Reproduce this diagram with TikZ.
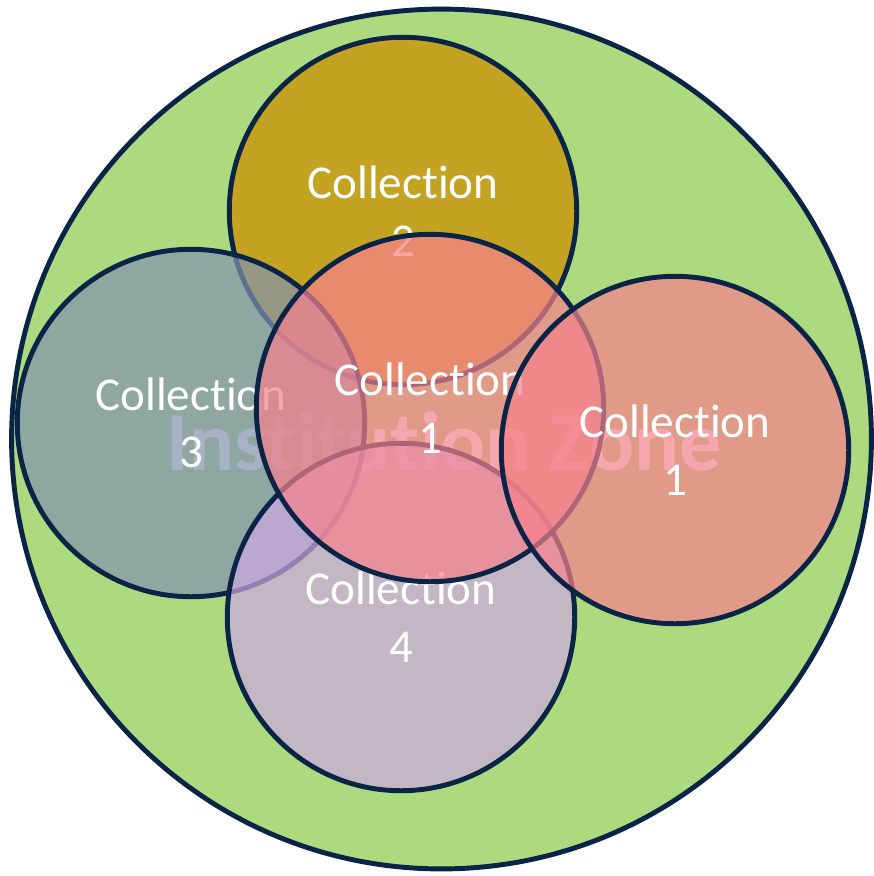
\documentclass[tikz,border=0pt]{standalone}
\usepackage{fontspec}
\setmainfont{Carlito}[Ligatures={NoCommon}]
\definecolor{zonegreen}{RGB}{173,218,126}
\definecolor{navy}{RGB}{10,36,72}
\definecolor{gold}{RGB}{196,162,34}
\definecolor{slate}{RGB}{130,146,175}
\definecolor{lilac}{RGB}{206,169,226}
\definecolor{coral}{RGB}{246,129,141}

\begin{document}
\begin{tikzpicture}[x=0.02cm,y=-0.02cm,
    coll/.style={circle,draw=navy,line width=2.8pt,minimum size=6.95cm,inner sep=0pt,
                 align=center,text=white,font=\fontsize{26.8}{32.7}\selectfont,
                 fill opacity=0.7,text opacity=1}]
  \useasboundingbox (0,0) rectangle (873,876);
  \node[circle,draw=navy,line width=2.8pt,fill=zonegreen,minimum size=17.2cm] (zone) at (441.5,439) {};
  \node[text=white,font=\bfseries\fontsize{47.8}{57}\selectfont] (zonelabel) at (444,441) {Institution Zone};

  \node[coll,fill=gold,fill opacity=1] (c2)  at (403,211) {Collection\\2};
  \node[coll,fill=slate]               (c3)  at (191,423) {Collection\\3};
  \node[coll,fill=lilac]               (c4)  at (401,617) {Collection\\4};
  \node[coll,fill=coral]               (c1)  at (430,408) {Collection\\1};
  \node[coll,fill=coral]               (c1b) at (675,450) {Collection\\1};
\end{tikzpicture}
\end{document}
